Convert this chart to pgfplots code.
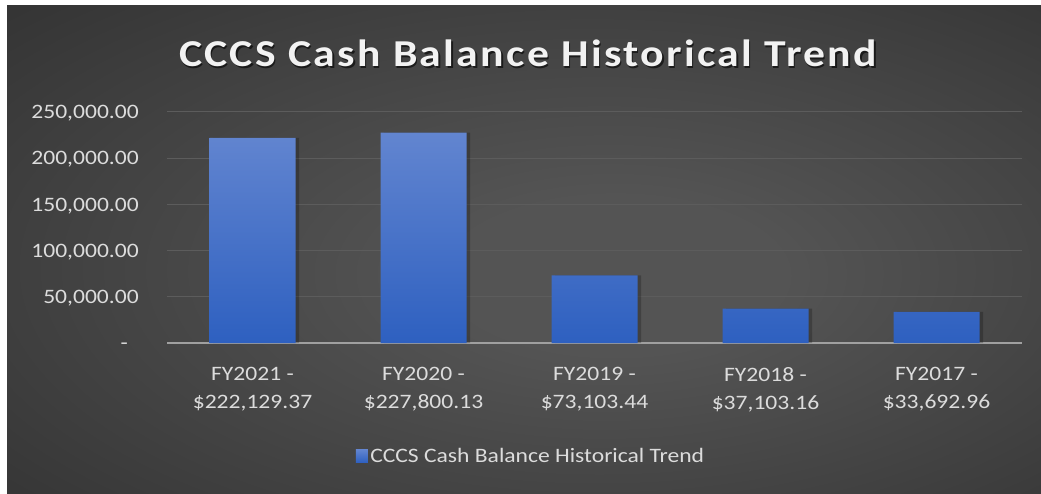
\documentclass[border=0pt]{standalone}
\usepackage{pgfplots}
\pgfplotsset{compat=1.18}
\usepackage{fontspec}
\setmainfont{Carlito}
\definecolor{bgin}{RGB}{84,84,84}
\definecolor{bgout}{RGB}{40,40,40}
\definecolor{bartop}{RGB}{98,133,208}
\definecolor{barbot}{RGB}{46,96,192}
\definecolor{txt}{RGB}{220,220,220}
\definecolor{titlec}{RGB}{242,242,242}
\definecolor{gridc}{RGB}{92,92,92}
\definecolor{basec}{RGB}{160,160,160}
\pgfdeclareradialshading{bgshade}{\pgfpoint{5bp}{-3bp}}{color(0bp)=(bgin); color(8bp)=(bgin); color(50bp)=(bgout); color(75bp)=(bgout)}
\newfontfamily\titlefont[LetterSpace=5.3]{Carlito}
\begin{document}
\begin{tikzpicture}
\fill[white] (0pt,0pt) rectangle (1041pt,493pt);
\path[shading=bgshade] (7pt,0pt) rectangle (1041pt,487pt);
\node[text=black, opacity=0.6, font=\fontsize{38}{40}\titlefont\bfseries, anchor=base, xscale=1.15] at (529.5pt,424.5pt) {CCCS Cash Balance Historical Trend};
\node[text=titlec, font=\fontsize{38}{40}\titlefont\bfseries, anchor=base, xscale=1.15] at (528pt,426pt) {CCCS Cash Balance Historical Trend};
\begin{axis}[
  at={(167pt,150pt)}, anchor=south west,
  scale only axis, width=855pt, height=231pt,
  xmin=-0.5, xmax=4.5, ymin=0, ymax=250000,
  scaled y ticks=false,
  axis x line*=bottom, axis y line*=left,
  y axis line style={draw=none},
  x axis line style={draw=basec, line width=2.7pt},
  ytick={0,50000,100000,150000,200000,250000},
  yticklabels={{-\rule{9.5pt}{0pt}},{50,000.00},{100,000.00},{150,000.00},{200,000.00},{250,000.00}},
  xtick={0,1,2,3,4},
  xticklabels={{FY2021 -\\\$222,129.37},{FY2020 -\\\$227,800.13},{FY2019 -\\\$73,103.44},{FY2018 -\\\$37,103.16},{FY2017 -\\\$33,692.96}},
  major tick length=0pt,
  ymajorgrids, major grid style={draw=gridc, line width=1pt},
  tick label style={font=\fontsize{20.5}{28}\selectfont, text=txt, inner sep=0pt},
  yticklabel style={anchor=base east, xshift=-28pt, yshift=-6.6pt, xscale=1.15},
  xticklabel style={anchor=north, align=center, yshift=-24pt, xscale=1.15},
  legend style={at={(0.426,-0.489)}, anchor=center, draw=none, fill=none,
    font=\fontsize{20.5}{24}\selectfont, text=txt, nodes={xscale=1.15}},
  legend image code/.code={\path[#1] (0pt,-6.5pt) rectangle (12pt,6.5pt);},
]
\addplot[ybar, bar width=86pt, bar shift=3.5pt, draw=none, fill=black, fill opacity=0.22, forget plot]
  coordinates {(0,222129.37) (1,227800.13) (2,73103.44) (3,37103.16) (4,33692.96)};
\addplot[ybar, bar width=86pt, bar shift=0pt, draw=none, top color=bartop, bottom color=barbot]
  coordinates {(0,222129.37) (1,227800.13) (2,73103.44) (3,37103.16) (4,33692.96)};
\addlegendentry{CCCS Cash Balance Historical Trend}
\end{axis}
\pgfresetboundingbox
\useasboundingbox (0pt,0pt) rectangle (1041pt,493pt);
\end{tikzpicture}
\end{document}
